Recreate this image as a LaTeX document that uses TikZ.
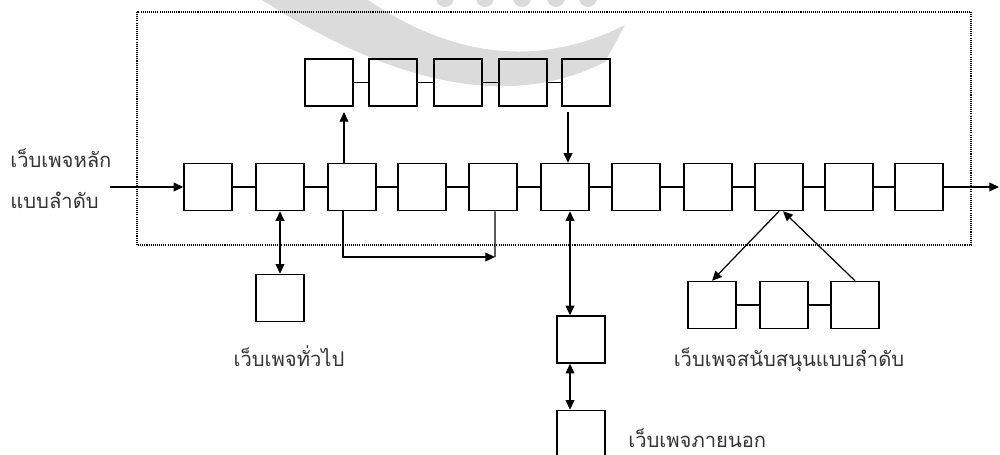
\documentclass[tikz,border=0pt]{standalone}
\usepackage{fontspec}
\newfontfamily\thai[Script=Thai]{Loma}
\usetikzlibrary{arrows.meta}
\begin{document}
\begin{tikzpicture}[x=0.02cm,y=-0.02cm,
  box/.style={draw, line width=0.85pt, minimum width=0.96cm, minimum height=0.94cm, inner sep=0pt},
  lnk/.style={line width=0.7pt},
  arr/.style={line width=0.7pt,-{Triangle[length=5.5pt,width=5pt]}},
  darr/.style={line width=0.7pt,{Triangle[length=5.5pt,width=5pt]}-{Triangle[length=5.5pt,width=5pt]}},
  lbl/.style={font=\thai\fontsize{11.5}{14}\selectfont, text=black!80, inner sep=0pt},
  frame/.style={line width=0.6pt, dash pattern=on 0.6pt off 0.6pt}]

\useasboundingbox (0,0) rectangle (1000,454);

% faint watermark
\fill[black!14] (262,0) .. controls (380,75) and (500,115) .. (605,62) -- (625,25) .. controls (520,78) and (430,42) .. (368,0) -- cycle;
\foreach \x in {445,485,522,556,588} \fill[black!14] (\x,-2) circle (9);

% dotted frame
\draw[frame] (137,12) rectangle (971,245);

% main row
\foreach \x [count=\i] in {208,280,352,422,493,565,636,708,779,849,919}
  \node[box] (m\i) at (\x,187) {};
\foreach \i/\j in {1/2,2/3,3/4,4/5,5/6,6/7,7/8,8/9,9/10,10/11}
  \draw[lnk] (m\i) -- (m\j);

% top row
\foreach \x [count=\i] in {329,393,458,523,586}
  \node[box] (t\i) at (\x,82.5) {};
\foreach \i/\j in {1/2,2/3,3/4,4/5}
  \draw[lnk] (t\i) -- (t\j);

% general page
\node[box] (g) at (280,298) {};
% external pages
\node[box] (e1) at (581,339.5) {};
\node[box] (e2) at (581,434) {};
% supporting pages
\node[box] (s1) at (712,305) {};
\node[box] (s2) at (784,305) {};
\node[box] (s3) at (855,305) {};
\draw[lnk] (s1) -- (s2);
\draw[lnk] (s2) -- (s3);

% in / out
\coordinate (in) at (110,187);
\coordinate (out) at (999,187);
\draw[arr] (in) -- (m1);
\draw[arr] (m11) -- (out);

% up and down to the top row
\draw[arr, shorten >=3pt] ([xshift=-0.16cm]m3.north) -- ([xshift=-0.16cm]m3.north |- t1.south);
\draw[arr, shorten <=3pt] ([xshift=0.06cm]m6.north |- t5.south) -- ([xshift=0.06cm]m6.north);

% skip loop
\coordinate (loopc) at (495,257);
\draw[lnk] ([xshift=0.04cm]m5.south) -- (loopc);
\draw[arr] ([xshift=-0.18cm]m3.south) |- (loopc);

% general page link
\draw[darr] (m2) -- (g);

% external links
\draw[darr] ([xshift=0.1cm]m6.south) -- ([xshift=0.1cm]m6.south |- e1.north);
\draw[darr] ([xshift=-0.22cm]e1.south) -- ([xshift=-0.22cm]e2.north);

% supporting links
\draw[arr] (m9.south) -- (s1.north);
\draw[arr] (s3.north) -- ([xshift=0.08cm]m9.south);

% labels
\node[lbl, anchor=west] (l1) at (10,158) {เว็บเพจหลัก};
\node[lbl, anchor=west] (l2) at (10,200) {แบบลำดับ};
\node[lbl] (lg) at (289,356) {เว็บเพจทั่วไป};
\node[lbl] (ls) at (789,360) {เว็บเพจสนับสนุนแบบลำดับ};
\node[lbl, anchor=west] (le) at (628,438) {เว็บเพจภายนอก};
\end{tikzpicture}
\end{document}
